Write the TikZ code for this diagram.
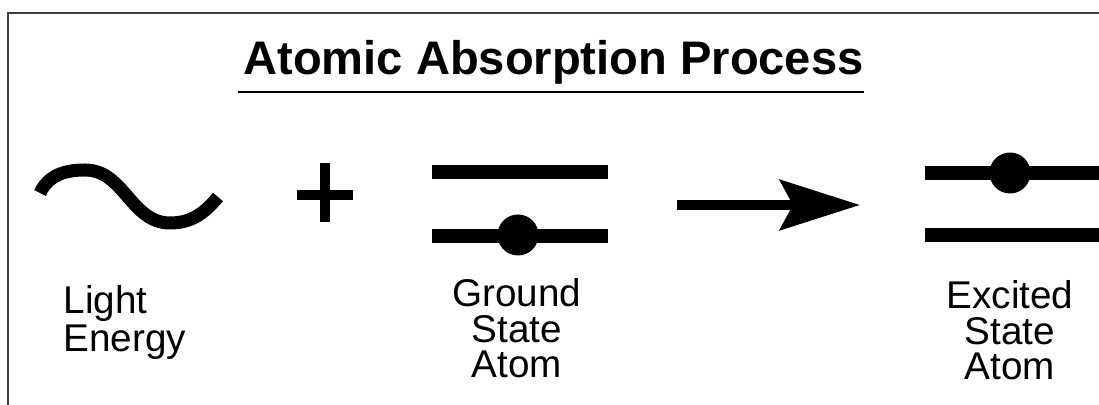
\documentclass[tikz,border=0pt]{standalone}
\usepackage{fontspec}
\setmainfont{Liberation Sans}
\usetikzlibrary{arrows.meta,positioning}

\begin{document}
\begin{tikzpicture}[
    level/.style={fill=black, inner sep=0pt, minimum width=1.76cm, minimum height=0.14cm},
    electron/.style={circle, fill=black, inner sep=0pt, minimum size=0.41cm},
    caption/.style={align=center, inner sep=0pt, font=\fontsize{11}{10.2}\selectfont},
    heavy/.style={line width=0.13cm},
    arrow/.style={line width=0.1cm, -{Stealth[length=0.8cm, width=0.5cm, inset=0.13cm]}},
]
\useasboundingbox (0,0) rectangle (10.99,-4.05);

% frame
\draw[line width=0.015cm, black!75] (0.08,-4.05) -- (0.08,-0.13) -- (10.99,-0.13);

% ===== TITLE =====
\node[font=\fontsize{13.4}{16}\selectfont\bfseries, inner sep=0pt, anchor=base] (title) at (5.535,-0.75) {Atomic Absorption Process};
\draw[line width=0.025cm] ([xshift=-0.05cm, yshift=-0.17cm]title.base west) -- ([yshift=-0.17cm]title.base east);

% ===== LIGHT ENERGY =====
\coordinate (wave) at (0.40,-1.93);
\draw[heavy] (wave) to[out=65, in=180] (0.85,-1.70) to[out=0, in=180] (1.70,-2.23) to[out=0, in=-130] (2.18,-1.97);
\node[caption, align=left, font=\fontsize{11}{9.2}\selectfont, anchor=base west] (light) at (0.63,-3.52) {Light\\Energy};

% plus sign
\coordinate (plus) at (3.25,-1.95);
\draw[line width=0.1cm] ([xshift=-0.28cm]plus) -- ([xshift=0.28cm]plus);
\draw[line width=0.1cm] ([yshift=0.32cm]plus) -- ([yshift=-0.27cm]plus);

% ===== GROUND STATE =====
\node[level] (gup)   at (5.20,-1.72) {};
\node[level] (gdown) at (5.20,-2.36) {};
\node[electron] (gdot) at (5.18,-2.35) {};
\node[caption, anchor=base] (ground) at (5.17,-3.78) {Ground\\State\\Atom};

% reaction arrow
\coordinate (from) at (6.77,-2.05);
\coordinate (to)   at (8.60,-2.05);
\draw[arrow] (from) -- (to);

% ===== EXCITED STATE =====
\node[level, minimum width=1.74cm] (eup)   at (10.12,-1.73) {};
\node[level, minimum width=1.74cm] (edown) at (10.12,-2.35) {};
\node[electron] (edot) at (10.10,-1.73) {};
\node[caption, anchor=base] (excited) at (10.10,-3.80) {Excited\\State\\Atom};

\end{tikzpicture}
\end{document}
